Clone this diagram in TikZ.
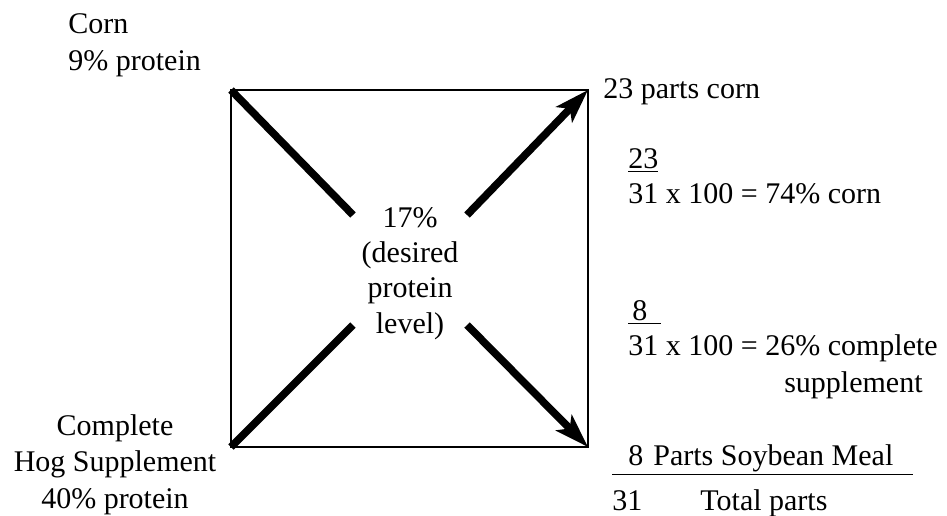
\documentclass[tikz,border=0pt]{standalone}
\usepackage{fontspec}
\setmainfont{Liberation Serif}
\usetikzlibrary{arrows.meta,positioning}
\tikzset{
  txt/.style={
    inner sep = 0pt,
    anchor = base west,
    align = left,
    font = \fontsize{15}{18.2}\selectfont
  },
  square/.style={
    line width = 1pt
  },
  bar/.style={
    line width = 3.8pt
  },
  barhead/.style={
    bar,
    -{Stealth[length=17pt,width=11pt,inset=4pt]}
  }
}
\begin{document}
\begin{tikzpicture}[x=0.5pt,y=-0.5pt]
        \useasboundingbox (0,0) rectangle (947,515);
        % the square
        \coordinate (tl) at (231,90);
        \coordinate (tr) at (588,90);
        \coordinate (bl) at (231,447);
        \coordinate (br) at (588,447);
        \draw[square] (tl) rectangle (br);
        %
        \node[txt,anchor=base,align=center,font=\fontsize{15}{17.6}\selectfont] (mix) at (410,333) {17\%\\(desired\\protein\\level)};
        \coordinate (mixtl) at (353,215);
        \coordinate (mixtr) at (467,215);
        \coordinate (mixbl) at (353,325);
        \coordinate (mixbr) at (467,325);
        \draw[bar] (mixtl)--(tl);
        \draw[barhead] (mixtr)--(tr);
        \draw[bar] (mixbl)--(bl);
        \draw[barhead] (mixbr)--(br);
        % feeds
        \node[txt] (corn) at (68,70) {Corn\\9\% protein};
        \node[txt,anchor=base,align=center] (hog) at (115,508) {Complete\\Hog Supplement\\40\% protein};
        % results
        \node[txt] (cornparts) at (603,98) {23 parts corn};
        \node[txt] (cornfrac) at (628,168) {\underline{23}};
        \node[txt] (cornpct) at (628,203) {31 x 100 = 74\% corn};
        \node[txt] (suppfrac) at (628,320) {\underline{\hspace{2pt}8\hspace{7pt}}};
        \node[txt] (supppct) at (628,355) {31 x 100 = 26\% complete};
        \node[txt,anchor=base east] (suppword) at (923,392) {supplement};
        \node[txt] (soy) at (612,465) {\underline{\hspace{8pt}8\hspace{5pt}Parts Soybean Meal\hspace{10pt}}};
        \node[txt] (total) at (612,510) {31};
        \node[txt] (totalword) at (700,510) {Total parts};
    \end{tikzpicture}
\end{document}
